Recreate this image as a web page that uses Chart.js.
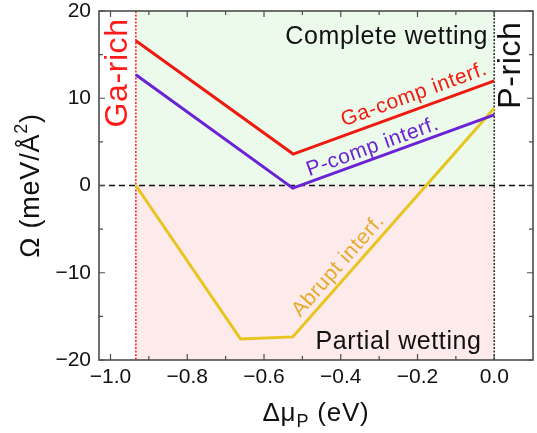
<!DOCTYPE html>
<html>
<head>
<meta charset="utf-8">
<script src="https://cdn.jsdelivr.net/npm/chart.js@4.4.1/dist/chart.umd.min.js"></script>
<style>
  html, body { margin: 0; padding: 0; background: #fff; }
  #wrap { width: 537px; height: 433px; position: relative; }
</style>
</head>
<body>
<div id="wrap"><canvas id="wettingChart"></canvas></div>
<script>
// interface energies (meV/Å²) at the kinks, vs. P chemical potential (eV)
const gaCompX = [-0.934, -0.524, 0.0];
const gaCompY = [16.6, 3.6, 12.0];
const pCompX = [-0.934, -0.525, 0.0];
const pCompY = [12.7, -0.3, 8.1];
const abruptX = [-0.934, -0.661, -0.525, 0.0];
const abruptY = [0.0, -17.6, -17.35, 8.85];

// stability limits of the chemical potential
const gaRichLimit = -0.934;
const pRichLimit = 0.0;

const xTickValues = [-1.0, -0.8, -0.6, -0.4, -0.2, 0.0];
const xTickLabels = ['\u22121.0', '\u22120.8', '\u22120.6', '\u22120.4', '\u22120.2', '0.0'];
const xMinorTicks = [-0.9, -0.7, -0.5, -0.3, -0.1];
const yTickValues = [-20, -10, 0, 10, 20];
const yTickLabels = ['\u221220', '\u221210', '0', '10', '20'];
const yMinorTicks = [-15, -5, 5, 15];

const FONT = '"Liberation Sans", Arial, Helvetica, sans-serif';
const AXIS_COLOR = '#4d4d4d';

function pts(xs, ys) {
    return xs.map((x, i) => ({ x: x, y: ys[i] }));
}

function setSpacing(ctx, px) {
    if ('letterSpacing' in ctx) ctx.letterSpacing = px + 'px';
}

// draws a run of text pieces (normal / super / subscript) centred on cx
function drawParts(ctx, parts, cx, cy, angle) {
    ctx.save();
    ctx.translate(cx, cy);
    ctx.rotate(angle);
    ctx.textBaseline = 'alphabetic';
    ctx.textAlign = 'left';
    setSpacing(ctx, 0.8);
    let total = 0;
    parts.forEach(p => {
        ctx.font = p.size + 'px ' + FONT;
        p.w = ctx.measureText(p.text).width;
        total += p.w;
    });
    let x = -total / 2;
    parts.forEach(p => {
        ctx.font = p.size + 'px ' + FONT;
        ctx.fillStyle = p.color || '#111';
        ctx.fillText(p.text, x, p.dy || 0);
        x += p.w;
    });
    ctx.restore();
}

function drawLabel(ctx, text, px, py, angle, size, color, align) {
    ctx.save();
    ctx.translate(px, py);
    ctx.rotate(angle);
    ctx.font = size + 'px ' + FONT;
    setSpacing(ctx, 0.6);
    ctx.fillStyle = color;
    ctx.textAlign = align || 'center';
    ctx.textBaseline = 'middle';
    ctx.fillText(text, 0, 0);
    ctx.restore();
}

const regionsPlugin = {
    id: 'regions',
    beforeDatasetsDraw(chart) {
        const { ctx, chartArea: a, scales: { x, y } } = chart;
        const xl = x.getPixelForValue(gaRichLimit);
        const xr = x.getPixelForValue(pRichLimit);
        const y0 = y.getPixelForValue(0);
        ctx.save();
        ctx.fillStyle = '#ebfaea';
        ctx.fillRect(xl, a.top, xr - xl, y0 - a.top);
        ctx.fillStyle = '#fdeaea';
        ctx.fillRect(xl, y0, xr - xl, a.bottom - y0);

        ctx.lineWidth = 1.5;
        ctx.strokeStyle = '#111';
        ctx.setLineDash([6, 4]);
        ctx.beginPath();
        ctx.moveTo(a.left, y0);
        ctx.lineTo(a.right, y0);
        ctx.stroke();

        ctx.lineWidth = 1.6;
        ctx.setLineDash([2, 1.5]);
        ctx.strokeStyle = '#ff2a2a';
        ctx.beginPath();
        ctx.moveTo(xl, a.top);
        ctx.lineTo(xl, a.bottom);
        ctx.stroke();
        ctx.strokeStyle = '#333';
        ctx.beginPath();
        ctx.moveTo(xr, a.top);
        ctx.lineTo(xr, a.bottom);
        ctx.stroke();
        ctx.restore();
    },
    afterDatasetsDraw(chart) {
        const { ctx, scales: { x, y } } = chart;
        const segAngle = (i, k) => {
            const d = chart.getDatasetMeta(i).data;
            return Math.atan2(d[k + 1].y - d[k].y, d[k + 1].x - d[k].x);
        };
        drawLabel(ctx, 'Ga-comp interf.', x.getPixelForValue(-0.209), y.getPixelForValue(10.4), segAngle(0, 1), 21, '#f01a10');
        drawLabel(ctx, 'P-comp interf.', x.getPixelForValue(-0.317), y.getPixelForValue(4.4), segAngle(1, 1), 21, '#6a22d6');
        drawLabel(ctx, 'Abrupt interf.', x.getPixelForValue(-0.406), y.getPixelForValue(-9.2), segAngle(2, 2), 21, '#e8aa2c');

        drawLabel(ctx, 'Complete wetting', x.getPixelForValue(-0.016), y.getPixelForValue(17.0), 0, 25, '#111', 'right');
        drawLabel(ctx, 'Partial wetting', x.getPixelForValue(-0.033), y.getPixelForValue(-18.0), 0, 25, '#111', 'right');

        drawLabel(ctx, 'Ga-rich', x.getPixelForValue(-0.980), y.getPixelForValue(12.9), -Math.PI / 2, 32, '#ff1a1a');
        drawLabel(ctx, 'P-rich', x.getPixelForValue(0.044), y.getPixelForValue(13.8), -Math.PI / 2, 32, '#111');
    }
};

const framePlugin = {
    id: 'frame',
    afterDraw(chart) {
        const { ctx, chartArea: a, scales: { x, y } } = chart;
        ctx.save();
        ctx.strokeStyle = AXIS_COLOR;
        ctx.lineWidth = 1.6;
        ctx.strokeRect(a.left, a.top, a.right - a.left, a.bottom - a.top);

        ctx.lineWidth = 1.2;
        ctx.beginPath();
        const xTick = (v, len) => {
            const px = x.getPixelForValue(v);
            ctx.moveTo(px, a.bottom);
            ctx.lineTo(px, a.bottom - len);
            ctx.moveTo(px, a.top);
            ctx.lineTo(px, a.top + len);
        };
        const yTick = (v, len) => {
            const py = y.getPixelForValue(v);
            ctx.moveTo(a.left, py);
            ctx.lineTo(a.left + len, py);
            ctx.moveTo(a.right, py);
            ctx.lineTo(a.right - len, py);
        };
        xTickValues.forEach(v => xTick(v, 6));
        xMinorTicks.forEach(v => xTick(v, 4));
        yTickValues.forEach(v => yTick(v, 6));
        yMinorTicks.forEach(v => yTick(v, 4));
        ctx.stroke();
        ctx.restore();

        const cx = (a.left + a.right) / 2;
        const cy = (a.top + a.bottom) / 2;
        drawParts(ctx, [
            { text: '\u0394\u03bc', size: 26 },
            { text: 'P', size: 18, dy: 6 },
            { text: ' (eV)', size: 26 }
        ], cx, 421, 0);
        drawParts(ctx, [
            { text: '\u03a9 (meV/\u00c5', size: 27 },
            { text: '2', size: 18, dy: -12 },
            { text: ')', size: 27 }
        ], 39, cy, -Math.PI / 2);
    }
};

new Chart(document.getElementById('wettingChart'), {
    type: 'line',
    data: {
        datasets: [
            { label: 'Ga-comp interf.', data: pts(gaCompX, gaCompY), borderColor: '#ee1a10' },
            { label: 'P-comp interf.', data: pts(pCompX, pCompY), borderColor: '#6a22d6' },
            { label: 'Abrupt interf.', data: pts(abruptX, abruptY), borderColor: '#e8c51e' }
        ]
    },
    options: {
        responsive: true,
        maintainAspectRatio: false,
        animation: false,
        devicePixelRatio: 1,
        layout: { padding: { top: 11, right: 4, left: 0, bottom: 0 } },
        elements: {
            line: { borderWidth: 3, tension: 0, fill: false },
            point: { radius: 0, hoverRadius: 0 }
        },
        plugins: {
            legend: { display: false },
            tooltip: { enabled: false }
        },
        scales: {
            x: {
                type: 'linear',
                min: -1.03,
                max: 0.101,
                grid: { display: false, drawTicks: false },
                border: { display: false },
                afterBuildTicks: s => { s.ticks = xTickValues.map(v => ({ value: v })); },
                afterFit: s => { s.height = 73; s.paddingLeft = 0; s.paddingRight = 0; },
                ticks: {
                    padding: 5,
                    color: '#111',
                    maxRotation: 0,
                    font: { family: FONT, size: 21 },
                    callback: (v, i) => xTickLabels[i]
                }
            },
            y: {
                min: -20,
                max: 20,
                grid: { display: false, drawTicks: false },
                border: { display: false },
                afterBuildTicks: s => { s.ticks = yTickValues.map(v => ({ value: v })); },
                afterFit: s => { s.width = 99; s.paddingTop = 0; s.paddingBottom = 0; },
                ticks: {
                    padding: 8,
                    color: '#111',
                    font: { family: FONT, size: 21 },
                    callback: (v, i) => yTickLabels[i]
                }
            }
        }
    },
    plugins: [regionsPlugin, framePlugin]
});
</script>
</body>
</html>
